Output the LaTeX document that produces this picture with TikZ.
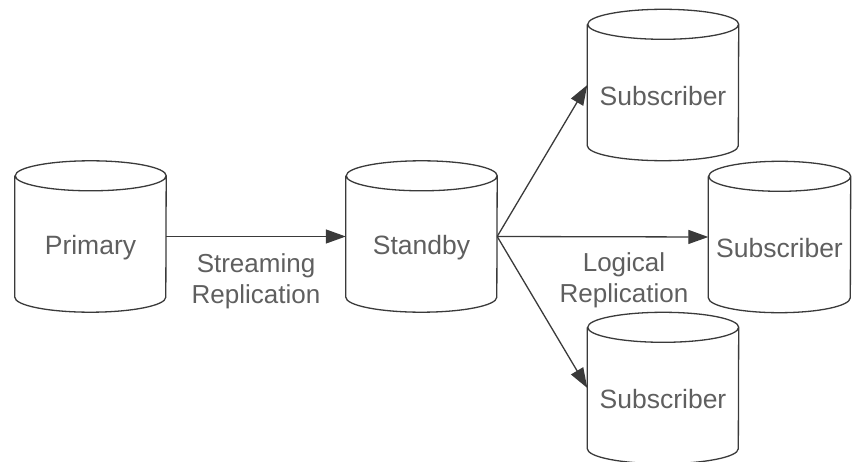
\documentclass[tikz,border=0pt]{standalone}
\usepackage{fontspec}
\setmainfont{Liberation Sans}
\usetikzlibrary{arrows.meta}
\definecolor{linec}{HTML}{3A3A3A}
\definecolor{textc}{HTML}{5F5F5F}
\tikzset{
  db/.style={minimum width=151pt, minimum height=151pt, inner sep=0pt},
  dbtext/.style={text=textc, font=\fontsize{26.5}{32}\selectfont, inner sep=0pt},
  cylline/.style={draw=linec, line width=1.3pt},
  conn/.style={draw=linec, line width=1.3pt, -{Triangle[length=20pt,width=14pt]}},
  lbl/.style={text=textc, align=center, font=\fontsize{26}{31}\selectfont, inner sep=0pt}
}
% #1 node name, #2 text, #3 x radius
\newcommand\drawcyl[3]{%
  \draw[cylline] ([yshift=-15pt]#1.north west) -- ([yshift=15pt]#1.south west)
    arc[start angle=180, end angle=360, x radius=#3, y radius=15pt]
    -- ([yshift=-15pt]#1.north east)
    arc[start angle=0, end angle=360, x radius=#3, y radius=15pt];
  \node[dbtext] (#1t) at ([yshift=-11pt]#1.center) {#2};
}
\begin{document}
\begin{tikzpicture}[x=1pt,y=1pt]
\useasboundingbox (0,0) rectangle (852,461);
\begin{scope}
\clip (0,0) rectangle (852,461);
\node[db] (P) at (90.5,224.5) {};
\node[db] (S) at (421.5,224.5) {};
\node[db] (T) at (663,376) {};
\node[db, minimum width=142pt] (M) at (779.5,224) {};
\node[db] (B) at (663,73) {};
\drawcyl{P}{Primary}{75.5pt}
\drawcyl{S}{Standby}{75.5pt}
\drawcyl{T}{Subscriber}{75.5pt}
\drawcyl{M}{Subscriber}{71pt}
\drawcyl{B}{Subscriber}{75.5pt}
\end{scope}
\draw[conn] (P.east) -- (S.west);
\draw[conn] (S.east) -- (T.west);
\draw[conn] (S.east) -- (M.west);
\draw[conn] (S.east) -- (B.west);
\node[lbl] (L1) at (256,180) {Streaming\\Replication};
\node[lbl] (L2) at (624,181) {Logical\\Replication};
\end{tikzpicture}
\end{document}
